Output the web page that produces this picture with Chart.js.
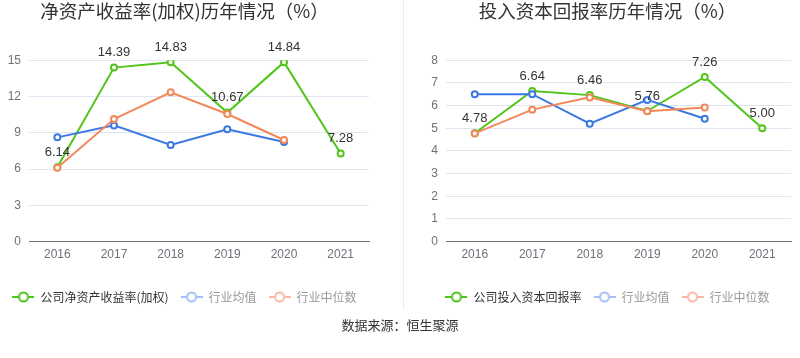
<!DOCTYPE html>
<html lang="zh">
<head>
<meta charset="UTF-8">
<title>收益率历年情况</title>
<script src="https://cdn.jsdelivr.net/npm/chart.js@4.4.1/dist/chart.umd.min.js"></script>
<style>
  body { margin:0; background:#fff; width:800px; height:358px; position:relative; overflow:hidden; }
  .box { position:absolute; top:0; height:317px; }
  #sep { position:absolute; left:403px; top:0; width:1px; height:310px; background:#ececec; }
  #src { position:absolute; left:0; width:800px; top:315px; text-align:center;
         font:13px 'Noto Sans CJK SC', sans-serif; color:#333; }
</style>
</head>
<body>
<div class="box" style="left:0;width:378px"><canvas id="c1"></canvas></div>
<div id="sep"></div>
<div class="box" style="left:424px;width:376px"><canvas id="c2"></canvas></div>
<div id="src">数据来源：恒生聚源</div>
<script>
// 年份
var years = ['2016', '2017', '2018', '2019', '2020', '2021'];

// 净资产收益率(加权)
var roeCompany = [6.14, 14.39, 14.83, 10.67, 14.84, 7.28];
var roeAvg     = [8.62, 9.61, 7.99, 9.28, 8.24, null];
var roeMedian  = [6.10, 10.14, 12.34, 10.55, 8.40, null];
var roeTicks   = [0, 3, 6, 9, 12, 15];

// 投入资本回报率
var roicCompany = [4.78, 6.64, 6.46, 5.76, 7.26, 5.00];
var roicAvg     = [6.50, 6.50, 5.20, 6.25, 5.42, null];
var roicMedian  = [4.77, 5.82, 6.36, 5.75, 5.91, null];
var roicTicks   = [0, 1, 2, 3, 4, 5, 6, 7, 8];

var GREEN = '#52c41a', BLUE = '#3b78e3', ORANGE = '#f4875a';
var FONT = "Arial, 'Liberation Sans', 'Noto Sans CJK SC', sans-serif";

// 图例里的 线+空心圆 小图标
var f_icon = function(p_color){
    var cv = document.createElement('canvas');
    cv.width = 22; cv.height = 12;
    var c = cv.getContext('2d');
    c.strokeStyle = p_color; c.lineWidth = 2;
    c.beginPath(); c.moveTo(0, 6); c.lineTo(22, 6); c.stroke();
    c.beginPath(); c.arc(11, 6, 4.5, 0, Math.PI*2);
    c.fillStyle = '#fff'; c.fill(); c.stroke();
    return cv;
};

// 公司那条线上面的数字
var valueLabels = {
    id: 'valueLabels',
    afterDatasetsDraw: function(chart){
        var ctx = chart.ctx;
        chart.data.datasets.forEach(function(ds, di){
            if (!ds.showValues) return;
            var meta = chart.getDatasetMeta(di);
            ctx.save();
            ctx.font = '13px ' + FONT;
            ctx.fillStyle = '#333';
            ctx.textAlign = 'center';
            ctx.textBaseline = 'middle';
            meta.data.forEach(function(pt, i){
                if (ds.data[i] == null) return;
                ctx.fillText(ds.data[i].toFixed(2), pt.x, pt.y - 15);
            });
            ctx.restore();
        });
    }
};

var f_ds = function(p_lbl, p_data, p_color, p_show){
    return {
        label: p_lbl,
        data: p_data,
        showValues: p_show,
        borderColor: p_color,
        backgroundColor: '#fff',
        borderWidth: 2,
        pointRadius: 3,
        pointBorderWidth: 2,
        pointBackgroundColor: '#fff',
        pointBorderColor: p_color,
        tension: 0,
        spanGaps: false
    };
};

var f_chart = function(p_id, p_title, p_names, p_sets, p_ticks, p_yw){
    var legendColors = [GREEN, '#a3bff4', '#f9b9a2'];
    var textColors = ['#333', '#999', '#999'];
    return new Chart(document.getElementById(p_id), {
        type: 'line',
        data: {
            labels: years,
            datasets: [
                f_ds(p_names[0], p_sets[0], GREEN, true),
                f_ds(p_names[1], p_sets[1], BLUE, false),
                f_ds(p_names[2], p_sets[2], ORANGE, false)
            ].reverse()
        },
        plugins: [valueLabels],
        options: {
            responsive: true,
            maintainAspectRatio: false,
            animation: false,
            layout: { padding: { top: 0, right: 9, bottom: 4, left: 0 } },
            plugins: {
                title: {
                    display: true,
                    text: p_title,
                    color: '#333',
                    font: { size: 18.5, family: "'Noto Sans CJK SC', sans-serif", weight: 'normal' },
                    padding: { top: 0, bottom: 38 }
                },
                legend: {
                    position: 'bottom',
                    reverse: true,
                    labels: {
                        usePointStyle: true,
                        pointStyleWidth: 22,
                        boxHeight: 12,
                        padding: 12,
                        font: { size: 12, family: "'Noto Sans CJK SC', sans-serif" },
                        generateLabels: function(chart){
                            return chart.data.datasets.map(function(ds, i){
                                var k = 2 - i;
                                return {
                                    text: ds.label,
                                    pointStyle: f_icon(legendColors[k]),
                                    fontColor: textColors[k],
                                    strokeStyle: legendColors[k],
                                    fillStyle: '#fff',
                                    lineWidth: 0,
                                    hidden: false,
                                    datasetIndex: i
                                };
                            });
                        }
                    }
                },
                tooltip: { enabled: false }
            },
            scales: {
                x: {
                    offset: true,
                    afterFit: function(s){ s.height += 11; },
                    grid: { display: false, drawTicks: false },
                    border: { display: true, color: '#6e7079', width: 1 },
                    ticks: { color: '#6e7079', font: { size: 12, family: FONT }, padding: 6 }
                },
                y: {
                    min: p_ticks[0],
                    max: p_ticks[p_ticks.length - 1],
                    afterBuildTicks: function(s){ s.ticks = p_ticks.map(function(v){ return { value: v }; }); },
                    afterFit: function(s){ s.width = p_yw; },
                    grid: { color: '#e0e6f1', drawTicks: false },
                    border: { display: false },
                    ticks: { color: '#6e7079', font: { size: 12, family: FONT }, padding: 8 }
                }
            }
        }
    });
};

f_chart('c1', '净资产收益率(加权)历年情况（%）',
    ['公司净资产收益率(加权)', '行业均值', '行业中位数'],
    [roeCompany, roeAvg, roeMedian], roeTicks, 29);

f_chart('c2', '投入资本回报率历年情况（%）',
    ['公司投入资本回报率', '行业均值', '行业中位数'],
    [roicCompany, roicAvg, roicMedian], roicTicks, 22);
</script>
</body>
</html>
